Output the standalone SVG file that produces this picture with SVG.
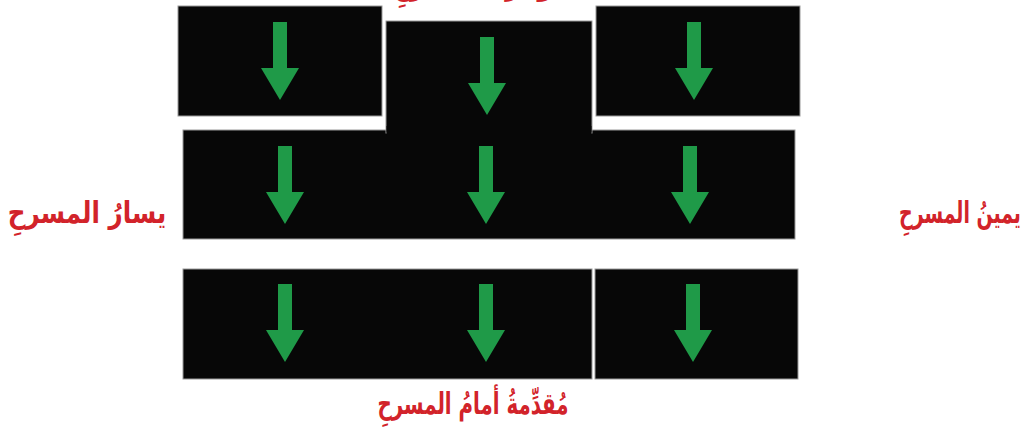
<svg xmlns="http://www.w3.org/2000/svg" width="1029" height="444" viewBox="0 0 1029 444">
<style>
.blk{fill:#070707;stroke:#9a9a9a;stroke-width:1}
.arr{fill:#1f9a48}
.lbl{fill:#d2232a;font-family:"DejaVu Sans","Noto Sans",sans-serif;font-weight:bold;font-size:30px;text-anchor:middle}
</style>
<defs>
<path id="arrow" d="M-7,0 H7 V46 H19 L0,78 L-19,46 H-7 Z"/>
</defs>
<rect width="1029" height="444" fill="#ffffff"/>
<g id="row-middle">
<rect class="blk" x="183" y="130" width="612" height="109"/>
<use class="arr" href="#arrow" x="285" y="146"/>
<use class="arr" href="#arrow" x="486" y="146"/>
<use class="arr" href="#arrow" x="690" y="146"/>
</g>
<g id="top-left">
<rect class="blk" x="178" y="6" width="204" height="110"/>
<use class="arr" href="#arrow" x="280" y="22"/>
</g>
<g id="top-center">
<rect class="blk" x="386" y="21" width="206" height="112"/>
<rect x="386.6" y="126" width="204.8" height="10" fill="#070707"/>
<use class="arr" href="#arrow" x="487" y="37"/>
</g>
<g id="top-right">
<rect class="blk" x="596" y="6" width="204" height="110"/>
<use class="arr" href="#arrow" x="694" y="22"/>
</g>
<g id="bottom-left">
<rect class="blk" x="183" y="269" width="409" height="110"/>
<use class="arr" href="#arrow" x="285" y="284"/>
<use class="arr" href="#arrow" x="486" y="284"/>
</g>
<g id="bottom-right">
<rect class="blk" x="595" y="269" width="203" height="110"/>
<use class="arr" href="#arrow" x="693" y="284"/>
</g>
<g id="connectors"></g>
<g id="labels">
<text class="lbl" transform="translate(480,-5) scale(0.8,1)">مؤخرةُ المسرحِ</text>
<text class="lbl" transform="translate(87,223) scale(0.82,1)">يسارُ المسرحِ</text>
<text class="lbl" transform="translate(960,223) scale(0.63,1)">يمينُ المسرحِ</text>
<text class="lbl" transform="translate(473,414) scale(0.66,1)">مُقدِّمةُ أمامُ المسرحِ</text>
</g>
</svg>
